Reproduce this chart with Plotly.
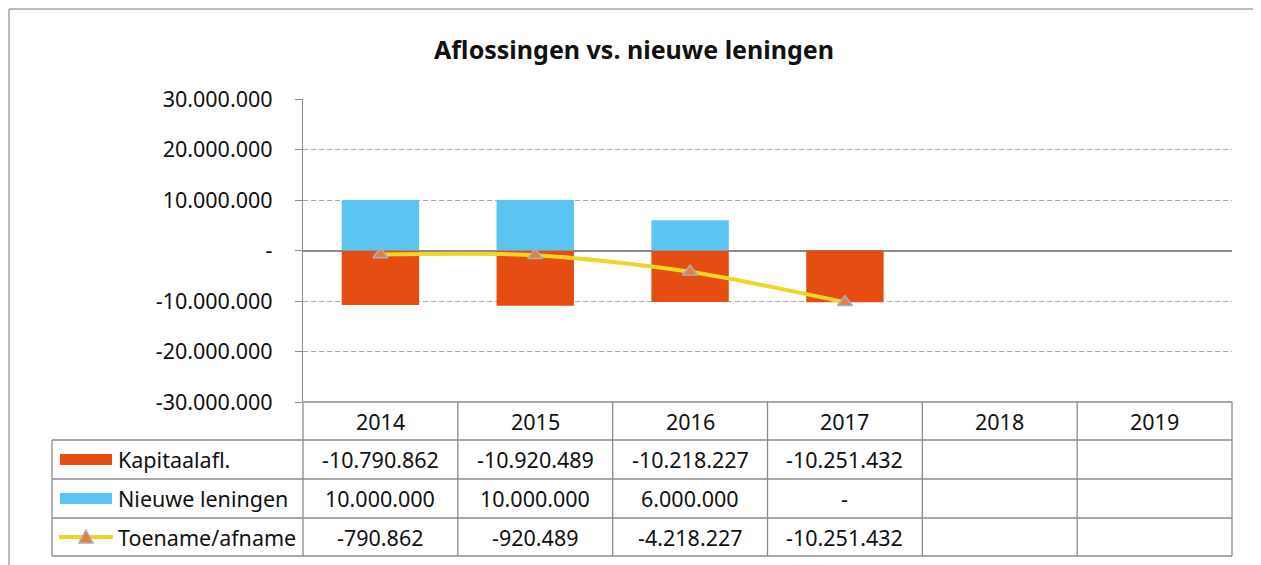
import plotly.graph_objects as go

# ---------------- data ----------------
years = ["2014", "2015", "2016", "2017", "2018", "2019"]
kapitaalafl = [-10790862, -10920489, -10218227, -10251432, None, None]
nieuwe_leningen = [10000000, 10000000, 6000000, 0, None, None]
toename_afname = [-790862, -920489, -4218227, -10251432, None, None]
series_names = ["Kapitaalafl.", "Nieuwe leningen", "Toename/afname"]
y_ticks = [30000000, 20000000, 10000000, 0, -10000000, -20000000, -30000000]
title = "Aflossingen vs. nieuwe leningen"

# ---------------- style ----------------
OFF = 8                     # page body margin offset
W, H = 1261 - OFF, 565 - OFF
PLOT_L, PLOT_R, PLOT_T, PLOT_B = 303 - OFF, 1232 - OFF, 99 - OFF, 402 - OFF
ROW_H = [38, 39, 39, 38]          # header + 3 data rows (px)
LABEL_COL_L = 52 - OFF
FONT = "Noto Sans"
C_ORANGE = "#E64D13"
C_BLUE = "#5BC4F1"
C_LINE = "#EFD625"
C_MARK = "#ED7D31"
C_MARK_EDGE = "#9DB3D3"
C_GRID = "#A6A6A6"
C_AXIS = "#8C8C8C"
TXT = "#111111"
FS = 21.5


def fmt(v):
    if v is None:
        return ""
    if v == 0:
        return "-"
    s = f"{abs(int(v)):,}".replace(",", ".")
    return ("-" if v < 0 else "") + s


def py2paper(py):
    return (PLOT_B - py) / (PLOT_B - PLOT_T)


def px2paper(px):
    return (px - PLOT_L) / (PLOT_R - PLOT_L)


xs = list(range(len(years)))

fig = go.Figure()
fig.add_trace(go.Bar(x=xs, y=kapitaalafl, name=series_names[0], marker=dict(color=C_ORANGE, line=dict(width=0)), width=0.5))
fig.add_trace(go.Bar(x=xs, y=nieuwe_leningen, name=series_names[1], marker=dict(color=C_BLUE, line=dict(width=0)), width=0.5))
fig.add_trace(go.Scatter(
    x=xs, y=toename_afname, name=series_names[2], mode="lines+markers",
    line=dict(color=C_LINE, width=4, shape="spline", smoothing=0.8),
    marker=dict(symbol="triangle-up", size=13, color=C_MARK, line=dict(color=C_MARK_EDGE, width=1.5)),
))

shapes = []
annotations = []

# outer chart border (left, top, right edges)
bcol = dict(color="#A6A6A6", width=1.5)
bl, br, bt = px2paper(1), px2paper(W - 1), py2paper(9 - OFF)
shapes.append(dict(type="line", xref="paper", yref="paper", x0=bl, x1=br, y0=bt, y1=bt, line=bcol))
shapes.append(dict(type="line", xref="paper", yref="paper", x0=bl, x1=bl, y0=bt, y1=py2paper(H + 5), line=bcol))
shapes.append(dict(type="line", xref="paper", yref="paper", x0=br, x1=br, y0=bt, y1=py2paper(H + 5), line=bcol))

# table grid
row_edges = [PLOT_B]
for h in ROW_H:
    row_edges.append(row_edges[-1] + h)
tline = dict(color="#8C8C8C", width=1.3)
shapes.append(dict(type="line", xref="paper", yref="paper", x0=0, x1=1,
                   y0=py2paper(row_edges[0]), y1=py2paper(row_edges[0]), line=tline))
for e in row_edges[1:]:
    shapes.append(dict(type="line", xref="paper", yref="paper", x0=px2paper(LABEL_COL_L), x1=1,
                       y0=py2paper(e), y1=py2paper(e), line=tline))
for k in range(len(years) + 1):
    shapes.append(dict(type="line", xref="paper", yref="paper", x0=k / len(years), x1=k / len(years),
                       y0=py2paper(row_edges[0]), y1=py2paper(row_edges[-1]), line=tline))
shapes.append(dict(type="line", xref="paper", yref="paper", x0=px2paper(LABEL_COL_L), x1=px2paper(LABEL_COL_L),
                   y0=py2paper(row_edges[1]), y1=py2paper(row_edges[-1]), line=tline))

# header years
hy = py2paper((row_edges[0] + row_edges[1]) / 2)
for i, yr in enumerate(years):
    annotations.append(dict(x=xs[i], y=hy, xref="x", yref="paper", text=yr, showarrow=False,
                            font=dict(family=FONT, size=FS, color=TXT), xanchor="center", yanchor="middle"))

rows = [kapitaalafl, nieuwe_leningen, toename_afname]
for r, vals in enumerate(rows):
    yc_px = (row_edges[r + 1] + row_edges[r + 2]) / 2
    yc = py2paper(yc_px)
    annotations.append(dict(x=px2paper(116 - OFF), y=yc, xref="paper", yref="paper", text=series_names[r],
                            showarrow=False, font=dict(family=FONT, size=FS, color=TXT),
                            xanchor="left", yanchor="middle"))
    for i, v in enumerate(vals):
        annotations.append(dict(x=xs[i], y=yc, xref="x", yref="paper", text=fmt(v), showarrow=False,
                                font=dict(family=FONT, size=FS, color=TXT), xanchor="center", yanchor="middle"))
    if r < 2:
        shapes.append(dict(type="rect", xref="paper", yref="paper",
                           x0=px2paper(60 - OFF), x1=px2paper(112 - OFF),
                           y0=py2paper(yc_px - 5.5), y1=py2paper(yc_px + 5.5),
                           fillcolor=[C_ORANGE, C_BLUE][r], line=dict(width=0)))
    else:
        shapes.append(dict(type="line", xref="paper", yref="paper",
                           x0=px2paper(59 - OFF), x1=px2paper(113 - OFF), y0=yc, y1=yc,
                           line=dict(color=C_LINE, width=4)))
        shapes.append(dict(type="path", xref="paper", yref="paper", xsizemode="pixel", ysizemode="pixel",
                           xanchor=px2paper(86 - OFF), yanchor=yc,
                           path="M -7 -6 L 7 -6 L 0 7 Z",
                           fillcolor=C_MARK, line=dict(color=C_MARK_EDGE, width=1.5)))

fig.update_layout(
    width=W, height=H,
    margin=dict(l=PLOT_L, r=W - PLOT_R, t=PLOT_T, b=H - PLOT_B),
    paper_bgcolor="white", plot_bgcolor="white",
    barmode="relative", bargap=0.5,
    showlegend=False,
    title=dict(text=f"<b>{title}</b>", x=(634 - OFF) / W, xref="container", y=1 - (50 - OFF) / H, yref="container",
               xanchor="center", yanchor="middle", font=dict(family=FONT, size=25, color=TXT)),
    font=dict(family=FONT, size=FS, color=TXT),
    xaxis=dict(range=[-0.5, len(years) - 0.5], showticklabels=False, showgrid=False, zeroline=False,
               ticks="", showline=False, fixedrange=True),
    yaxis=dict(range=[y_ticks[-1], y_ticks[0]], tickvals=y_ticks, ticktext=[fmt(v) for v in y_ticks],
               showgrid=True, gridcolor=C_GRID, griddash="5px,3px", gridwidth=1.2,
               zeroline=True, zerolinecolor=C_AXIS, zerolinewidth=1.5,
               showline=True, linecolor=C_AXIS, linewidth=1.3,
               ticks="outside", ticklen=7, tickcolor=C_AXIS, ticklabelstandoff=18,
               tickfont=dict(family=FONT, size=FS, color=TXT)),
    shapes=shapes, annotations=annotations,
)

fig.write_html("out.html")
